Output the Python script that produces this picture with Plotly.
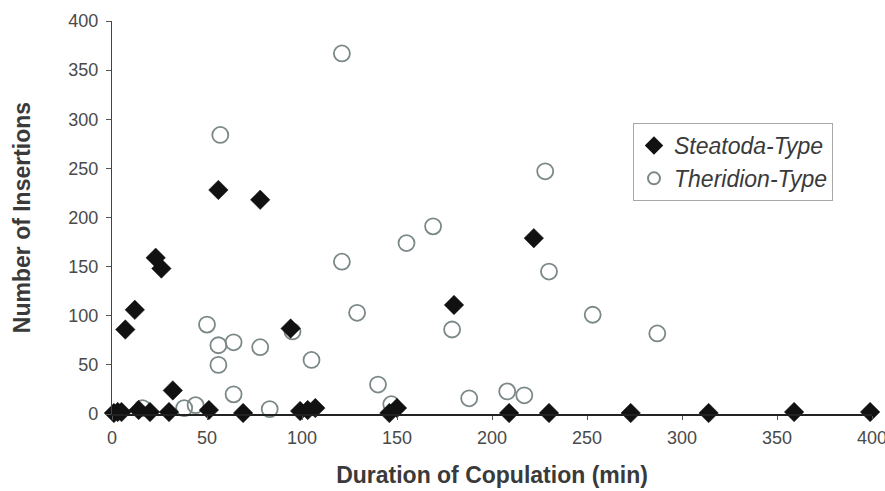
import plotly.graph_objects as go

# Steatoda-Type (filled diamonds)
steatoda_x = [1, 3, 5, 7, 12, 14, 20, 23, 26, 30, 32, 51, 56, 69, 78, 94, 99, 103, 107,
              146, 150, 180, 209, 222, 230, 273, 314, 359, 399]
steatoda_y = [1, 2, 2, 86, 106, 4, 2, 159, 148, 2, 24, 4, 228, 1, 218, 87, 3, 4, 6,
              1, 6, 111, 1, 179, 1, 1, 1, 2, 2]

# Theridion-Type (open circles)
theridion_x = [16, 38, 44, 50, 56, 56, 57, 64, 64, 78, 83, 95, 105, 121, 121, 129, 140,
               147, 155, 169, 179, 188, 208, 217, 228, 230, 253, 287]
theridion_y = [6, 6, 9, 91, 70, 50, 284, 73, 20, 68, 5, 84, 55, 367, 155, 103, 30,
               10, 174, 191, 86, 16, 23, 19, 247, 145, 101, 82]

x_ticks = [0, 50, 100, 150, 200, 250, 300, 350, 400]
y_ticks = [0, 50, 100, 150, 200, 250, 300, 350, 400]

FONT = "Arial, Liberation Sans, sans-serif"

fig = go.Figure()
fig.add_trace(go.Scatter(
    x=theridion_x, y=theridion_y, mode="markers", name="Theridion-Type",
    marker=dict(symbol="circle-open", size=16, color="#7c8888",
                line=dict(width=1.8, color="#7c8888")),
    cliponaxis=False,
))
fig.add_trace(go.Scatter(
    x=steatoda_x, y=steatoda_y, mode="markers", name="Steatoda-Type",
    marker=dict(symbol="diamond", size=15, color="#111111",
                line=dict(width=0.5, color="#111111")),
    cliponaxis=False,
))

fig.update_layout(
    width=885, height=491,
    margin=dict(l=112, r=13, t=21, b=77, autoexpand=False),
    paper_bgcolor="white", plot_bgcolor="white",
    font=dict(family=FONT, size=18, color="#4a4a4a"),
    showlegend=True,
    legend=dict(
        x=(633 - 112) / 760, y=1 - (123 - 21) / 393, xanchor="left", yanchor="top",
        traceorder="reversed",
        bordercolor="#a8a8a8", borderwidth=1, bgcolor="white",
        font=dict(family=FONT, size=23, color="#3a3a3a", style="italic"),
        itemsizing="constant", itemwidth=30, tracegroupgap=0,
    ),
    xaxis=dict(
        range=[0, 400], tickvals=x_ticks, ticktext=[str(v) for v in x_ticks],
        showgrid=False, zeroline=False, showline=True, linecolor="#222222", linewidth=1.5,
        ticks="outside", ticklen=4, tickcolor="#555555", tickwidth=1,
        ticklabelstandoff=3, ticklabeloverflow="allow",
        tickfont=dict(family=FONT, size=18, color="#4a4a4a"),
        title=dict(text="<b>Duration of Copulation (min)</b>",
                   font=dict(family=FONT, size=23, color="#3a3a3a"), standoff=20),
    ),
    yaxis=dict(
        range=[0, 400], tickvals=y_ticks, ticktext=[str(v) for v in y_ticks],
        showgrid=False, zeroline=False, showline=True, linecolor="#444444", linewidth=1.2,
        ticks="outside", ticklen=5, tickcolor="#555555", tickwidth=1,
        ticklabelstandoff=4, ticklabeloverflow="allow",
        tickfont=dict(family=FONT, size=18, color="#4a4a4a"),
        title=dict(text="<b>Number of Insertions</b>",
                   font=dict(family=FONT, size=23, color="#3a3a3a"), standoff=31),
    ),
)

fig.write_html(
    "out.html",
    config={"displayModeBar": False},
    post_script="document.body.style.margin='0';document.body.style.overflow='hidden';",
)
